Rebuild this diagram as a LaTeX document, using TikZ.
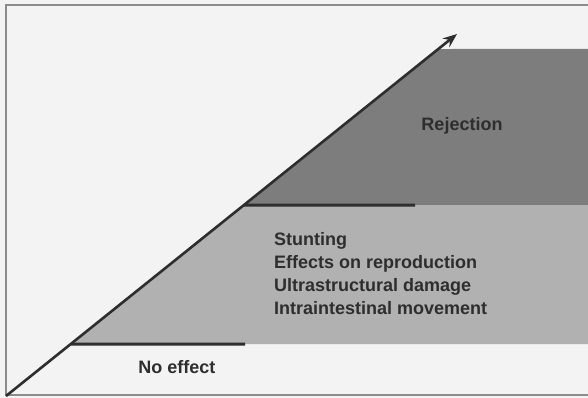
\documentclass[tikz,border=0pt]{standalone}
\usepackage{fontspec}
\setmainfont{Liberation Sans}
\usetikzlibrary{arrows.meta,calc}
\definecolor{paper}{HTML}{F3F3F3}
\definecolor{framegray}{HTML}{8C8C8C}
\definecolor{darkband}{HTML}{7D7D7D}
\definecolor{lightband}{HTML}{B1B1B1}
\definecolor{ink}{HTML}{2E2E2E}
\tikzset{
  framestroke/.style={draw=framegray, line width=2pt},
  levelrule/.style={draw=ink, line width=3pt},
  dosearrow/.style={draw=ink, line width=2.6pt, -{Stealth[length=14pt,width=11pt]}},
  label/.style={font=\bfseries\fontsize{18}{23}\selectfont, text=ink, inner sep=0pt},
}
\begin{document}
\begin{tikzpicture}[x=1pt,y=-1pt]
  % canvas
  \fill[paper] (0,0) rectangle (588,398);
  \useasboundingbox (0,0) rectangle (588,398);

  % frame: top, left and bottom edges
  \draw[framestroke] (588,5) -- (6,5) -- (6,395) -- (588,395);

  % key points on the rising line
  \coordinate (origin) at (6,396);
  \coordinate (tip) at (457,34);
  \coordinate (hiTop) at ($(origin)!{(396-49)/362}!(tip)$);
  \coordinate (hiBot) at ($(origin)!{(396-205)/362}!(tip)$);
  \coordinate (loBot) at ($(origin)!{(396-344)/362}!(tip)$);

  % shaded bands
  \fill[darkband] (hiTop) -- (588,49) -- (588,205) -- (hiBot) -- cycle;
  \fill[lightband] (hiBot) -- (588,205) -- (588,344) -- (loBot) -- cycle;

  % threshold rules
  \coordinate (hiRuleEnd) at (415,205);
  \coordinate (loRuleEnd) at (245,344);
  \draw[levelrule] (hiBot) -- (hiRuleEnd);
  \draw[levelrule] (loBot) -- (loRuleEnd);

  % rising arrow
  \draw[dosearrow] (origin) -- (tip);

  % labels
  \node[label] (rejection) at (462,126) {Rejection};
  \node[label, anchor=base west] (stunting) at (274,245) {Stunting};
  \node[label, anchor=base west] (repro) at (274,268) {Effects on reproduction};
  \node[label, anchor=base west] (ultra) at (274,291) {Ultrastructural damage};
  \node[label, anchor=base west] (move) at (274,314) {Intraintestinal movement};
  \node[label] (noeffect) at (177,367) {No effect};
\end{tikzpicture}
\end{document}
